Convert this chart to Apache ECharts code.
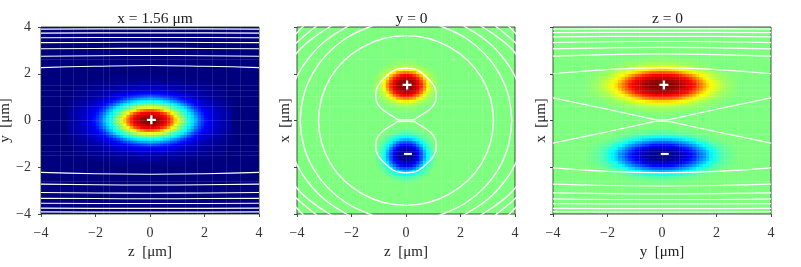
<!DOCTYPE html>
<html><head><meta charset="utf-8">
<style>html,body{margin:0;padding:0;background:#fff}#c{width:801px;height:267px}</style>
<script src="https://cdn.jsdelivr.net/npm/echarts@6/dist/echarts.min.js"></script>
</head><body><div id="c"></div>
<script>
// Field amplitude, as a percentage of the colour scale (50 = zero field).
// Each table is one quadrant of a lobe: rows step away from the centre along the vertical axis.
const lobeXPlane = [
 [100,99,96,93,90,84,77,67,59,53,46,40,35,30,23,18,14,11,9,8,6,5,4,3],
 [96,95,93,90,86,80,72,62,56,50,44,39,34,28,22,17,13,11,9,7,6,5,4,3],
 [90,89,87,83,79,71,63,57,52,46,41,36,31,25,20,15,12,10,8,7,6,5,4,3],
 [79,77,74,70,64,59,56,51,46,41,37,32,27,21,17,13,11,9,8,6,5,4,3,3],
 [61,60,59,57,54,51,47,43,39,36,32,27,21,17,14,11,9,8,7,6,4,4,3,2],
 [50,50,48,46,44,41,39,36,33,28,24,20,16,13,11,9,8,7,6,4,4,3,2,2],
 [40,39,38,37,35,33,30,27,24,20,17,14,12,10,8,7,6,5,4,3,3,2,2,1],
 [30,29,28,27,25,23,21,19,16,14,12,11,9,8,7,6,5,4,3,3,2,2,1,1],
 [20,19,18,17,16,15,14,12,11,10,9,8,7,6,5,4,4,3,3,2,2,1,1,0],
 [12,12,12,11,11,10,9,9,8,7,7,6,5,5,4,3,3,3,2,2,1,1,1,0],
 [8,8,8,8,8,7,7,6,6,5,5,5,4,4,3,3,2,2,2,1,1,1,0,0],
 [6,6,6,6,5,5,5,5,4,4,4,3,3,3,2,2,2,2,1,1,1,1,0,0],
 [4,4,4,4,3,3,3,3,3,3,2,2,2,2,2,1,1,1,1,1,0,0,0,0],
 [3,3,3,2,2,2,2,2,2,2,1,1,1,1,1,1,1,0,0,0,0,0,0,0],
 [1,1,1,1,1,1,1,1,1,1,1,1,0,0,0,0,0,0,0,0,0,0,0,0]
];
const lobeYPlaneRed = [
 [100,98,96,90,84,74,64,56,53,51],
 [98,97,94,89,81,71,62,56,53,51],
 [94,92,89,84,76,66,58,54,52,51],
 [88,86,81,76,68,61,56,53,51,50],
 [76,74,71,65,60,56,53,52,51,50],
 [64,62,60,57,55,53,52,51,50,50],
 [56,55,54,53,52,51,51,50,50,50],
 [52,52,52,51,51,50,50,50,50,50],
 [51,51,51,50,50,50,50,50,50,50]
];
const lobeYPlaneBlue = [
 [0,2,5,11,20,29,37,44,47,50],
 [2,4,7,13,21,31,38,45,48,50],
 [5,7,11,17,25,35,41,46,49,50],
 [11,13,17,23,31,37,43,47,49,50],
 [20,21,25,31,37,42,46,48,50,50],
 [29,31,35,37,42,45,47,50,50,50],
 [37,38,41,43,46,47,49,50,50,50],
 [44,45,46,47,48,50,50,50,50,50],
 [47,48,49,49,50,50,50,50,50,50]
];
const lobeZPlaneRed = [
 [100,100,99,98,97,95,93,90,88,85,80,76,71,66,63,60,58,56,54,53,52,51],
 [98,98,97,96,95,93,91,89,86,82,78,73,68,64,61,59,57,55,53,52,52,51],
 [94,94,93,92,91,89,87,85,81,77,73,68,64,62,59,57,55,53,53,52,51,51],
 [88,88,87,86,85,83,80,77,74,70,66,63,61,59,57,55,54,53,52,51,51,51],
 [79,78,78,77,75,73,70,67,65,63,60,59,57,56,54,53,52,52,51,51,50,50],
 [67,67,66,65,64,63,62,61,59,58,57,55,54,53,52,51,51,51,50,50,50,50],
 [59,59,59,59,58,57,57,56,55,54,53,52,52,51,51,51,50,50,50,50,50,50],
 [55,55,54,54,54,53,53,53,52,52,52,51,51,51,50,50,50,50,50,50,50,50],
 [52,52,52,52,52,52,51,51,51,51,51,50,50,50,50,50,50,50,50,50,50,50],
 [51,51,51,51,50,50,50,50,50,50,50,50,50,50,50,50,50,50,50,50,50,50]
];
const lobeZPlaneBlue = [
 [0,1,1,2,3,5,7,10,13,16,20,24,27,32,36,39,42,45,46,47,48,49],
 [2,2,3,4,5,7,9,12,15,18,22,26,29,33,37,40,43,45,47,48,49,49],
 [6,6,7,8,9,11,14,16,19,23,26,30,33,37,40,42,45,46,47,48,49,49],
 [12,13,13,14,16,18,20,23,25,28,31,35,38,40,42,45,46,47,48,49,49,50],
 [21,21,22,23,25,26,28,30,33,35,38,40,42,44,46,47,48,49,49,50,50,50],
 [30,31,31,32,33,34,36,38,40,41,43,45,46,47,48,49,49,50,50,50,50,50],
 [39,39,40,40,41,41,43,44,45,46,47,48,48,49,49,50,50,50,50,50,50,50],
 [45,45,46,46,46,47,47,47,48,48,49,49,49,50,50,50,50,50,50,50,50,50],
 [48,48,48,48,49,49,49,49,49,50,50,50,50,50,50,50,50,50,50,50,50,50]
];
// Contours in micrometres.
const sweep = [-4,-2,0,2,4];
const contoursXPlane = [
 [2.26,2.32,2.35,2.32,2.26],[2.75,2.77,2.78,2.77,2.75],[3.07,3.08,3.09,3.08,3.07],
 [3.33,3.34,3.35,3.34,3.33],[3.54,3.55,3.55,3.55,3.54],[3.74,3.75,3.75,3.75,3.74],[3.91,3.92,3.92,3.92,3.91],
 [-2.22,-2.28,-2.30,-2.28,-2.22],[-2.72,-2.75,-2.76,-2.75,-2.72],[-3.08,-3.10,-3.11,-3.10,-3.08],
 [-3.33,-3.34,-3.35,-3.34,-3.33],[-3.54,-3.55,-3.55,-3.55,-3.54],[-3.75,-3.76,-3.76,-3.76,-3.75],[-3.91,-3.92,-3.92,-3.92,-3.91]
];
const contoursZPlane = [
 [2.0,2.18,2.25,2.18,2.0],[2.75,2.82,2.85,2.82,2.75],[3.06,3.11,3.13,3.11,3.06],
 [3.33,3.37,3.38,3.37,3.33],[3.58,3.6,3.6,3.6,3.58],[3.76,3.77,3.77,3.77,3.76],[3.91,3.92,3.92,3.92,3.91],
 [-2.03,-2.18,-2.23,-2.18,-2.03],[-2.72,-2.78,-2.8,-2.78,-2.72],[-3.1,-3.13,-3.14,-3.13,-3.1],
 [-3.35,-3.38,-3.38,-3.38,-3.35],[-3.56,-3.57,-3.57,-3.57,-3.56],[-3.76,-3.77,-3.77,-3.77,-3.76],[-3.9,-3.91,-3.91,-3.91,-3.9]
];
const nodeZPlaneUpper = [[-4,0.97],[-2,0.48],[-0.3,0.05],[-0.15,0.03],[0.15,0.03],[0.3,0.05],[2,0.48],[4,0.97]];
const nodeZPlaneLower = [[-4,-0.97],[-2,-0.48],[-0.3,-0.05],[-0.15,-0.03],[0.15,-0.03],[0.3,-0.05],[2,-0.48],[4,-0.97]];
const ringLobeUpper = [[0,2.235],[0.4,2.17],[0.8,1.81],[1.02,1.5],[1.11,1.17],[1.08,0.81],[0.92,0.53],[0.67,0.31],[0.43,0.14],[0.3,0.04],[0,0.03],
 [-0.3,0.04],[-0.43,0.14],[-0.67,0.31],[-0.92,0.53],[-1.08,0.81],[-1.11,1.17],[-1.02,1.5],[-0.8,1.81],[-0.4,2.17],[0,2.235]];
const ringLobeLower = [[0,-2.235],[0.4,-2.17],[0.8,-1.81],[1.02,-1.5],[1.11,-1.17],[1.08,-0.81],[0.92,-0.53],[0.67,-0.31],[0.43,-0.14],[0.3,-0.04],[0,-0.03],
 [-0.3,-0.04],[-0.43,-0.14],[-0.67,-0.31],[-0.92,-0.53],[-1.08,-0.81],[-1.11,-1.17],[-1.02,-1.5],[-0.8,-1.81],[-0.4,-2.17],[0,-2.235]];
const ringInner = [[3.21,0],[3.1,0.94],[2.78,1.82],[2.27,2.57],[1.6,3.14],[0.83,3.51],[0,3.63],[-0.83,3.51],[-1.6,3.14],[-2.27,2.57],[-2.78,1.82],[-3.1,0.94],[-3.21,0],
 [-3.1,-0.94],[-2.78,-1.82],[-2.27,-2.57],[-1.6,-3.14],[-0.83,-3.51],[0,-3.63],[0.83,-3.51],[1.6,-3.14],[2.27,-2.57],[2.78,-1.82],[3.1,-0.94],[3.21,0]];
const ringSecond = [[3.88,0],[3.75,1.1],[3.4,2.06],[2.9,2.84],[2.2,3.52],[1.35,4.0],[0.7,4.2],[0,4.27],[-0.7,4.2],[-1.35,4.0],[-2.2,3.52],[-2.9,2.84],[-3.4,2.06],[-3.75,1.1],[-3.88,0],
 [-3.75,-1.1],[-3.4,-2.06],[-2.9,-2.84],[-2.2,-3.52],[-1.35,-4.0],[-0.7,-4.2],[0,-4.27],[0.7,-4.2],[1.35,-4.0],[2.2,-3.52],[2.9,-2.84],[3.4,-2.06],[3.75,-1.1],[3.88,0]];
// One corner arc per outer contour, upper right; the other corners share the same arc.
const cornerArcs = [
 [[4.3,0.9],[4.0,1.89],[3.6,2.63],[3.0,3.37],[2.2,3.99],[1.8,4.2]],
 [[4.6,1.8],[4.0,2.9],[3.5,3.45],[2.81,4.0],[2.3,4.3]],
 [[4.6,2.6],[4.0,3.35],[3.65,3.7],[3.33,4.0],[2.9,4.4]],
 [[4.4,3.3],[4.0,3.75],[3.8,4.0],[3.4,4.4]]
];
const faintZ = [-3.3,-2.8,-2.3,-1.72,-1.5,-0.84,0,0.62,1.28,1.72,2.3,2.8,3.3];
const faintV = [-1.5,-1.3,-1.05,-0.6,0,0.6,1.05,1.3,1.5,2.6,-2.6];
const titles = ['x = 1.56 μm','y = 0','z = 0'];
const xNames = ['z  [μm]','z  [μm]','y  [μm]'];
const yNames = ['y  [μm]','x  [μm]','x  [μm]'];
const lefts = [41,297,553];
const centres = [150,406.5,662.5];
const backgrounds = ['#00007f','#7fff7f','#7fff7f'];
const jet = ['#00007f','#0000ff','#007fff','#00ffff','#7fff7f','#ffff00','#ff7f00','#ff0000','#7f0000'];
const lineWidths = [1.1,1.4,1.2];
const plusPath = 'path://M3 0h2v3h3v2h-3v3h-2v-3h-3v-2h3z';
const minusPath = 'path://M0 0h8v2h-8z';
const font = '"Liberation Serif","DejaVu Serif",serif';

function lay(cells, table, cx, cy){
  table.forEach((row,r)=>row.forEach((v,c)=>{
    cells.push([cx+c,cy+r,v],[cx-1-c,cy+r,v],[cx+c,cy-1-r,v],[cx-1-c,cy-1-r,v]);
  }));
  return cells;
}
const cells1 = lay([], lobeXPlane, 32, 32);
const cells2 = lay(lay([], lobeYPlaneRed, 32, 44), lobeYPlaneBlue, 32, 20);
const cells3 = lay(lay([], lobeZPlaneRed, 32, 44), lobeZPlaneBlue, 32, 20);
const allCells = [cells1,cells2,cells3];
const bandCount = 64;

const grid=[],xAxis=[],yAxis=[],series=[],title=[];
const idx=n=>Array.from({length:n},(_,i)=>i);
lefts.forEach((left,p)=>{
  grid.push({left,top:27,width:218,height:187,show:true,outerBoundsMode:'none',backgroundColor:backgrounds[p],borderColor:'rgba(20,40,20,0.8)',borderWidth:1});
  xAxis.push({type:'category',gridIndex:p,data:idx(bandCount),show:false});
  yAxis.push({type:'category',gridIndex:p,data:idx(bandCount),show:false});
  const tickStyle={show:true,length:3,lineStyle:{color:'#444',width:1}};
  xAxis.push({type:'value',gridIndex:p,min:-4,max:4,interval:2,position:'bottom',
    axisLine:{show:false},axisTick:tickStyle,splitLine:{show:false},
    axisLabel:{margin:12,color:'#333',fontFamily:font,fontSize:14,formatter:v=>String(v).replace('-','\u2212')},
    name:xNames[p],nameLocation:'middle',nameGap:27,nameTextStyle:{color:'#222',fontFamily:font,fontSize:15}});
  yAxis.push({type:'value',gridIndex:p,min:-4,max:4,interval:2,position:'left',
    axisLine:{show:false},axisTick:tickStyle,splitLine:{show:false},
    axisLabel:{show:p===0,margin:10,color:'#333',fontFamily:font,fontSize:14,formatter:v=>String(v).replace('-','\u2212')},
    name:yNames[p],nameLocation:'middle',nameRotate:90,nameGap:p===0?20:4,nameTextStyle:{color:'#222',fontFamily:font,fontSize:15}});
  title.push({text:titles[p],left:centres[p],top:6,textAlign:'center',textStyle:{color:'#222',fontFamily:font,fontSize:15.5,fontWeight:'normal'}});
  series.push({type:'heatmap',name:'field'+p,xAxisIndex:2*p,yAxisIndex:2*p,data:allCells[p],progressive:0,silent:true,z:2});
});
function contour(p,pts,smooth){
  series.push({type:'line',xAxisIndex:2*p+1,yAxisIndex:2*p+1,data:pts,smooth,showSymbol:false,symbol:'none',silent:true,z:4,clip:true,
    lineStyle:{color:'#fff',width:lineWidths[p]}});
}
function faint(p){
  series.push({type:'line',xAxisIndex:2*p+1,yAxisIndex:2*p+1,data:[],silent:true,z:3,symbol:'none',
    markLine:{silent:true,symbol:'none',animation:false,label:{show:false},lineStyle:{color:'#fff',width:1,opacity:0.1,type:'solid'},
      data:faintZ.map(v=>({xAxis:v})).concat(faintV.map(v=>({yAxis:v})))}});
}
[0,1,2].forEach(faint);
contoursXPlane.forEach(c=>contour(0,sweep.map((z,i)=>[z,c[i]]),0.5));
contoursZPlane.forEach(c=>contour(2,sweep.map((z,i)=>[z,c[i]]),0.5));
contour(2,nodeZPlaneUpper,false); contour(2,nodeZPlaneLower,false);
contour(1,ringLobeUpper,0.35); contour(1,ringLobeLower,0.35);
contour(1,ringInner,0.4); contour(1,ringSecond,0.4);
cornerArcs.forEach(a=>{
  contour(1,a,0.4);
  contour(1,a.map(q=>[-q[0],q[1]]),0.4);
  contour(1,a.map(q=>[q[0],-q[1]]),0.4);
  contour(1,a.map(q=>[-q[0],-q[1]]),0.4);
});
function mark(p,pt,sym,size){
  series.push({type:'scatter',xAxisIndex:2*p+1,yAxisIndex:2*p+1,data:[pt],symbol:sym,symbolSize:size,silent:true,z:6,
    itemStyle:{color:'#fff',opacity:1}});
}
mark(0,[0.05,0.03],plusPath,9);
mark(1,[0.04,1.52],plusPath,9); mark(1,[0.07,-1.43],minusPath,[8,2]);
mark(2,[0.07,1.52],plusPath,9); mark(2,[0.1,-1.43],minusPath,[8,2]);

const chart=echarts.init(document.getElementById('c'),null,{renderer:'canvas'});
chart.setOption({animation:false,backgroundColor:'#fff',title,grid,xAxis,yAxis,series,
  visualMap:{show:false,type:'continuous',min:0,max:100,dimension:2,seriesIndex:[0,1,2],inRange:{color:jet}}});
</script></body></html>
